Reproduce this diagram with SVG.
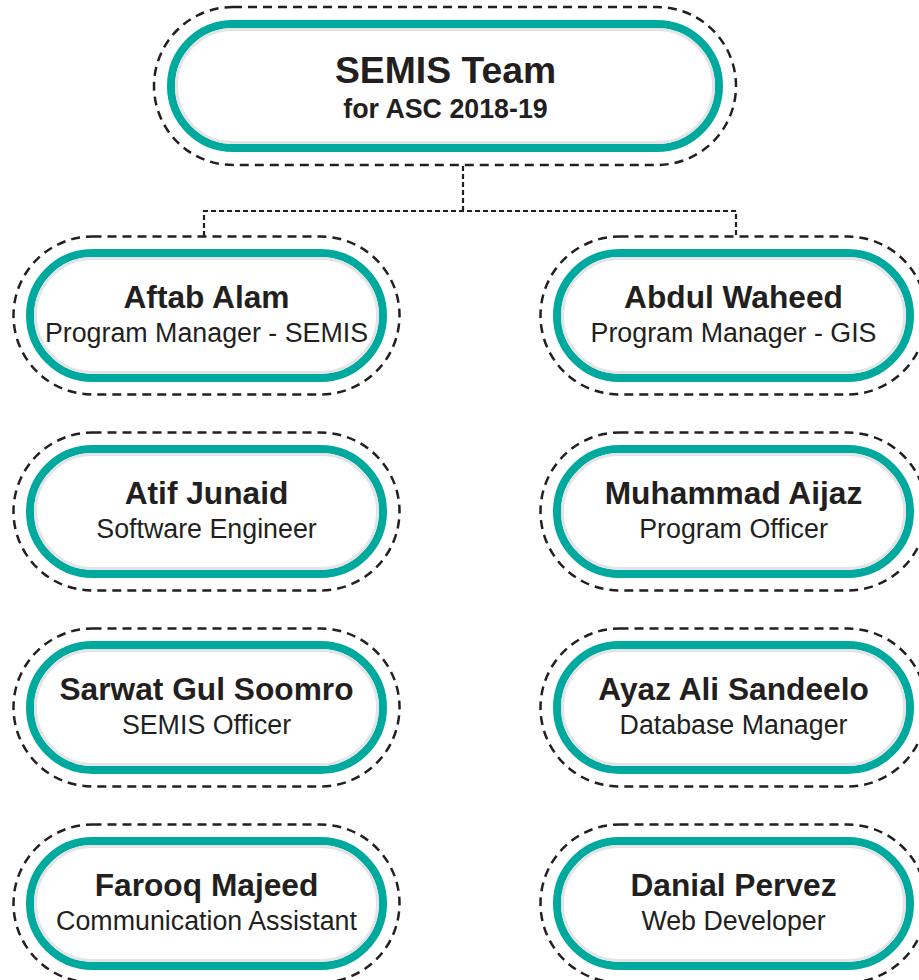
<svg xmlns="http://www.w3.org/2000/svg" width="919" height="980" viewBox="0 0 919 980">
<style>
.dash{fill:none;stroke:#231f20;stroke-width:2.5;stroke-dasharray:9 6}
.teal{fill:#fff;stroke:#00a99d;stroke-width:8}
.ring{fill:none;stroke:#e3e4e6;stroke-width:3}
.conn{fill:none;stroke:#231f20;stroke-width:2.2;stroke-dasharray:5 3}
.name{font-family:"Liberation Sans",Arial,sans-serif;font-weight:bold;font-size:31.7px;fill:#231f20;text-anchor:middle}
.role{font-family:"Liberation Sans",Arial,sans-serif;font-size:26.8px;fill:#231f20;text-anchor:middle}
.title{font-family:"Liberation Sans",Arial,sans-serif;font-weight:bold;font-size:37.3px;fill:#231f20;text-anchor:middle}
.sub{font-family:"Liberation Sans",Arial,sans-serif;font-weight:bold;font-size:26.8px;fill:#231f20;text-anchor:middle}
</style>
<defs>
<g id="pill">
<rect class="dash" x="-193" y="-79" width="386" height="158" rx="79"/>
<rect class="teal" x="-176.5" y="-62.5" width="353" height="125" rx="62.5"/>
<rect class="ring" x="-171" y="-57" width="342" height="114" rx="57"/>
</g>
</defs>
<g id="connectors">
<path class="conn" d="M463 166V211M204 236V211H736V236"/>
</g>
<g id="root">
<rect class="dash" x="154" y="7" width="582" height="158" rx="79"/>
<rect class="teal" x="171" y="24" width="548" height="124" rx="62"/>
<rect class="ring" x="176.5" y="29.5" width="537" height="113" rx="56.5"/>
<text class="title" x="445.5" y="83">SEMIS Team</text>
<text class="sub" x="445.5" y="118">for ASC 2018-19</text>
</g>
<g id="aftab" transform="translate(206.5,315.5)">
<use href="#pill"/>
<text class="name" y="-7.5">Aftab Alam</text>
<text class="role" y="26.5">Program Manager - SEMIS</text>
</g>
<g id="atif" transform="translate(206.5,511.5)">
<use href="#pill"/>
<text class="name" y="-7.5">Atif Junaid</text>
<text class="role" y="26.5">Software Engineer</text>
</g>
<g id="sarwat" transform="translate(206.5,707.5)">
<use href="#pill"/>
<text class="name" y="-7.5">Sarwat Gul Soomro</text>
<text class="role" y="26.5">SEMIS Officer</text>
</g>
<g id="farooq" transform="translate(206.5,903.5)">
<use href="#pill"/>
<text class="name" y="-7.5">Farooq Majeed</text>
<text class="role" y="26.5">Communication Assistant</text>
</g>
<g id="abdul" transform="translate(733.5,315.5)">
<use href="#pill"/>
<text class="name" y="-7.5">Abdul Waheed</text>
<text class="role" y="26.5">Program Manager - GIS</text>
</g>
<g id="aijaz" transform="translate(733.5,511.5)">
<use href="#pill"/>
<text class="name" y="-7.5">Muhammad Aijaz</text>
<text class="role" y="26.5">Program Officer</text>
</g>
<g id="ayaz" transform="translate(733.5,707.5)">
<use href="#pill"/>
<text class="name" y="-7.5">Ayaz Ali Sandeelo</text>
<text class="role" y="26.5">Database Manager</text>
</g>
<g id="danial" transform="translate(733.5,903.5)">
<use href="#pill"/>
<text class="name" y="-7.5">Danial Pervez</text>
<text class="role" y="26.5">Web Developer</text>
</g>
</svg>
